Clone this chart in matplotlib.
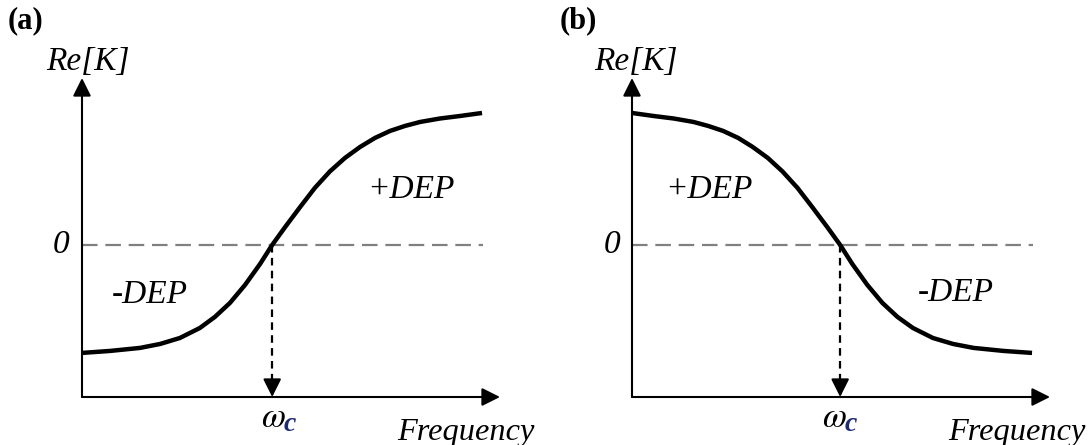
import matplotlib.pyplot as plt

plt.rcParams['font.family'] = ['Liberation Serif', 'DejaVu Serif']
plt.rcParams['mathtext.fontset'] = 'stix'

# Re[K] against normalised frequency
freq_a = [0, 0.067, 0.139, 0.187, 0.234, 0.282, 0.318, 0.354, 0.390, 0.426, 0.455, 0.486,
          0.522, 0.557, 0.593, 0.629, 0.665, 0.701, 0.737, 0.773, 0.809, 0.856, 0.904, 0.957]
rek_a = [-0.818, -0.803, -0.780, -0.750, -0.705, -0.629, -0.545, -0.439, -0.303, -0.144, 0.0, 0.136,
         0.288, 0.432, 0.557, 0.659, 0.742, 0.811, 0.864, 0.902, 0.932, 0.958, 0.977, 1.0]

freq_b = [0, 0.052, 0.100, 0.147, 0.182, 0.218, 0.254, 0.289, 0.325, 0.360, 0.396, 0.431,
          0.467, 0.498, 0.527, 0.563, 0.599, 0.635, 0.672, 0.720, 0.768, 0.817, 0.889, 0.957]
rek_b = [1.0, 0.977, 0.958, 0.932, 0.902, 0.864, 0.811, 0.742, 0.659, 0.557, 0.432, 0.288,
         0.136, 0.0, -0.144, -0.303, -0.439, -0.545, -0.629, -0.705, -0.750, -0.780, -0.803, -0.818]

# crossover frequency (Re[K] = 0)
wc_a = 0.455
wc_b = 0.498

panel_labels = ['(a)', '(b)']
ymin, ymax = -1.152, 1.265

W, H = 1089, 445
fig = plt.figure(figsize=(W / 100, H / 100), dpi=100)


def px(x, y):
    return x / W, 1 - y / H


def draw_panel(ax, freq, rek, wc):
    ax.set_xlim(0, 1)
    ax.set_ylim(ymin, ymax)
    ax.axis('off')
    head = dict(arrowstyle='-|>,head_length=0.5,head_width=0.25', lw=1.5,
                color='black', mutation_scale=22, shrinkA=0, shrinkB=0)
    # axes with arrow heads
    ax.annotate('', xy=(0, ymax), xytext=(0, ymin), arrowprops=head, annotation_clip=False)
    ax.annotate('', xy=(1, ymin), xytext=(0, ymin), arrowprops=head, annotation_clip=False)
    # zero line
    ax.plot([0, 0.96], [0, 0], color='#808080', lw=1.6, ls=(0, (7, 3.5)), clip_on=False)
    # dashed drop to the crossover frequency
    ax.plot([wc, wc], [0, ymin + 0.05], color='black', lw=1.6, ls=(0, (3.4, 2.4)), clip_on=False)
    ax.annotate('', xy=(wc, ymin), xytext=(wc, ymin + 0.13), arrowprops=head, annotation_clip=False)
    # the curve itself
    ax.plot(freq, rek, color='black', lw=3.2, solid_capstyle='butt',
            solid_joinstyle='round', clip_on=False)


ax_a = fig.add_axes([82 / W, 48 / H, 418 / W, 319 / H])
draw_panel(ax_a, freq_a, rek_a, wc_a)
ax_b = fig.add_axes([632 / W, 48 / H, 418 / W, 319 / H])
draw_panel(ax_b, freq_b, rek_b, wc_b)

lab = dict(fontsize=24, style='italic', ha='center', va='center')
panels = [
    # label x, Re[K] x, 0 x, omega x, Frequency x, -DEP xy, +DEP xy
    (panel_labels[0], 8, 88, 61, 261, 397, (150, 295), (411, 190)),
    (panel_labels[1], 560, 636, 612, 822, 948, (956, 293), (709, 190)),
]
for name, lx, rx, zx, wx, fx, mxy, pxy in panels:
    fig.text(*px(lx, 21), name, fontsize=22, fontweight='bold', ha='left', va='center')
    fig.text(*px(rx, 62), 'Re[K]', **lab)
    fig.text(*px(zx, 245), '0', **lab)
    fig.text(*px(wx, 427), r'$\omega$', fontsize=25, ha='left', va='baseline')
    fig.text(*px(wx + 23, 431), 'c', fontsize=20, style='italic', fontweight='bold',
             color='#1c2a78', ha='left', va='baseline')
    fig.text(*px(fx, 440), 'Frequency', fontsize=23.3, style='italic', ha='left', va='baseline')
    fig.text(*px(*mxy), '-DEP', **lab)
    fig.text(*px(*pxy), '+DEP', **lab)

fig.savefig('out.png', dpi=100)
